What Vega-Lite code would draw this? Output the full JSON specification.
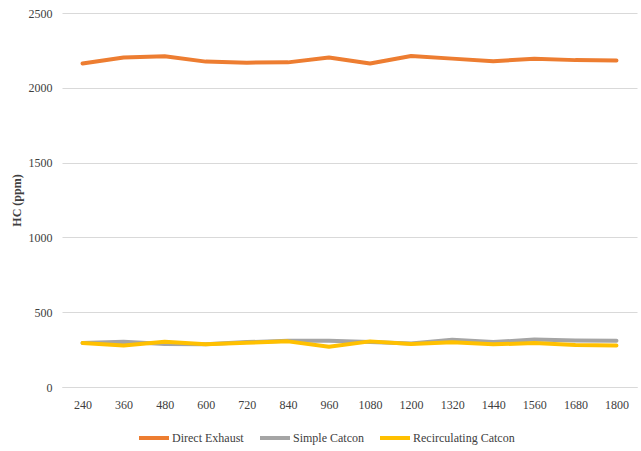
{
  "$schema": "https://vega.github.io/schema/vega-lite/v6.json",
  "width": 575,
  "height": 374,
  "autosize": {"type": "none"},
  "padding": {"left": 62, "right": 4, "top": 13, "bottom": 64},
  "background": "white",
  "config": {
    "font": "Liberation Serif",
    "view": {"stroke": null}
  },
  "data": {
    "values": [
      {"time": 240, "series": "Direct Exhaust", "hc": 2162},
      {"time": 360, "series": "Direct Exhaust", "hc": 2202},
      {"time": 480, "series": "Direct Exhaust", "hc": 2211},
      {"time": 600, "series": "Direct Exhaust", "hc": 2175},
      {"time": 720, "series": "Direct Exhaust", "hc": 2168},
      {"time": 840, "series": "Direct Exhaust", "hc": 2170},
      {"time": 960, "series": "Direct Exhaust", "hc": 2203},
      {"time": 1080, "series": "Direct Exhaust", "hc": 2162},
      {"time": 1200, "series": "Direct Exhaust", "hc": 2213},
      {"time": 1320, "series": "Direct Exhaust", "hc": 2195},
      {"time": 1440, "series": "Direct Exhaust", "hc": 2178},
      {"time": 1560, "series": "Direct Exhaust", "hc": 2194},
      {"time": 1680, "series": "Direct Exhaust", "hc": 2185},
      {"time": 1800, "series": "Direct Exhaust", "hc": 2183},
      {"time": 240, "series": "Simple Catcon", "hc": 294},
      {"time": 360, "series": "Simple Catcon", "hc": 302},
      {"time": 480, "series": "Simple Catcon", "hc": 288},
      {"time": 600, "series": "Simple Catcon", "hc": 285},
      {"time": 720, "series": "Simple Catcon", "hc": 300},
      {"time": 840, "series": "Simple Catcon", "hc": 309},
      {"time": 960, "series": "Simple Catcon", "hc": 309},
      {"time": 1080, "series": "Simple Catcon", "hc": 300},
      {"time": 1200, "series": "Simple Catcon", "hc": 290},
      {"time": 1320, "series": "Simple Catcon", "hc": 316},
      {"time": 1440, "series": "Simple Catcon", "hc": 300},
      {"time": 1560, "series": "Simple Catcon", "hc": 318},
      {"time": 1680, "series": "Simple Catcon", "hc": 311},
      {"time": 1800, "series": "Simple Catcon", "hc": 309},
      {"time": 240, "series": "Recirculating Catcon", "hc": 294},
      {"time": 360, "series": "Recirculating Catcon", "hc": 278},
      {"time": 480, "series": "Recirculating Catcon", "hc": 302},
      {"time": 600, "series": "Recirculating Catcon", "hc": 285},
      {"time": 720, "series": "Recirculating Catcon", "hc": 296},
      {"time": 840, "series": "Recirculating Catcon", "hc": 305},
      {"time": 960, "series": "Recirculating Catcon", "hc": 269},
      {"time": 1080, "series": "Recirculating Catcon", "hc": 305},
      {"time": 1200, "series": "Recirculating Catcon", "hc": 287},
      {"time": 1320, "series": "Recirculating Catcon", "hc": 299},
      {"time": 1440, "series": "Recirculating Catcon", "hc": 285},
      {"time": 1560, "series": "Recirculating Catcon", "hc": 294},
      {"time": 1680, "series": "Recirculating Catcon", "hc": 280},
      {"time": 1800, "series": "Recirculating Catcon", "hc": 278}
    ]
  },
  "mark": {"type": "line", "strokeWidth": 4, "strokeCap": "round", "strokeJoin": "round"},
  "encoding": {
    "x": {
      "field": "time",
      "type": "ordinal",
      "sort": null,
      "scale": {"padding": 0.5},
      "axis": {
        "title": null,
        "labelAngle": 0,
        "labelFont": "Liberation Serif",
        "labelFontSize": 12,
        "labelColor": "#404040",
        "ticks": false,
        "domain": true,
        "domainColor": "#D9D9D9",
        "domainWidth": 1,
        "labelPadding": 12,
        "grid": false
      }
    },
    "y": {
      "field": "hc",
      "type": "quantitative",
      "scale": {"domain": [0, 2500]},
      "axis": {
        "title": "HC (ppm)",
        "titleFont": "Liberation Serif",
        "titleFontSize": 12,
        "titleFontWeight": "bold",
        "titleColor": "#404040",
        "titlePadding": 5,
        "values": [0, 500, 1000, 1500, 2000, 2500],
        "format": "d",
        "labelFont": "Liberation Serif",
        "labelFontSize": 12,
        "labelColor": "#404040",
        "labelPadding": 10,
        "ticks": false,
        "domain": false,
        "grid": true,
        "gridColor": "#D9D9D9",
        "gridWidth": 1
      }
    },
    "color": {
      "field": "series",
      "type": "nominal",
      "sort": null,
      "scale": {
        "domain": ["Direct Exhaust", "Simple Catcon", "Recirculating Catcon"],
        "range": ["#ED7D31", "#A5A5A5", "#FFC000"]
      },
      "legend": {
        "title": null,
        "orient": "none",
        "legendX": 75,
        "legendY": 408,
        "direction": "horizontal",
        "symbolType": "stroke",
        "symbolStrokeWidth": 4,
        "symbolSize": 900,
        "labelOffset": 1,
        "labelFont": "Liberation Serif",
        "labelFontSize": 12,
        "labelColor": "#404040",
        "columnPadding": 8
      }
    }
  }
}
